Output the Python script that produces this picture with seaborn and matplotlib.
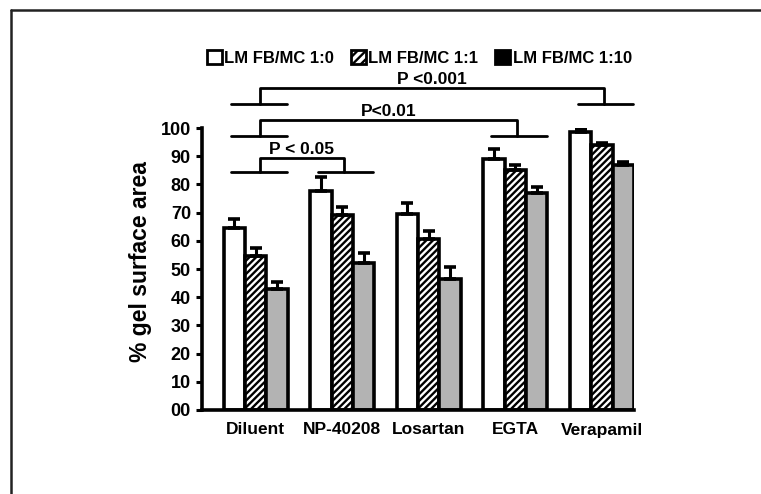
import pandas as pd
import numpy as np
import matplotlib
matplotlib.use('Agg')
import matplotlib.pyplot as plt
from matplotlib.patches import Patch
from matplotlib.lines import Line2D
from matplotlib.ticker import FuncFormatter
import seaborn as sns

# Data
treatments = ['Diluent', 'NP-40208', 'Losartan', 'EGTA', 'Verapamil']
ratios = ['LM FB/MC 1:0', 'LM FB/MC 1:1', 'LM FB/MC 1:10']
ratio_1_0 = [64.5, 77.5, 69.5, 89.0, 98.5]
ratio_1_1 = [54.5, 69.0, 60.5, 85.0, 93.8]
ratio_1_10 = [43.0, 52.0, 46.5, 77.0, 87.0]
err_1_0 = [3.4, 5.0, 3.8, 3.6, 1.0]
err_1_1 = [3.0, 2.9, 3.0, 1.9, 0.9]
err_1_10 = [2.3, 3.7, 4.2, 2.2, 1.1]

# significance brackets: (left group, right group, low y, high y, text y, label)
brackets = [
    (0, 1, 84.5, 89.5, 92.5, 'P < 0.05'),
    (0, 3, 97.2, 103.0, 105.8, 'P<0.01'),
    (0, 4, 108.5, 114.1, 117.3, 'P <0.001'),
]

values = [ratio_1_0, ratio_1_1, ratio_1_10]
errors = [err_1_0, err_1_1, err_1_10]
data = pd.DataFrame({
    'treatment': np.tile(treatments, 3),
    'ratio': np.repeat(ratios, len(treatments)),
    'value': np.concatenate(values),
})

sns.set_style('ticks', {'axes.edgecolor': 'black', 'text.color': 'black',
                        'axes.labelcolor': 'black', 'xtick.color': 'black',
                        'ytick.color': 'black'})
plt.rcParams['font.family'] = ['Liberation Sans', 'DejaVu Sans']
plt.rcParams['font.weight'] = 'bold'
plt.rcParams['hatch.linewidth'] = 1.7

fig = plt.figure(figsize=(7.61, 4.94), dpi=100)
ax = fig.add_axes([202 / 761, 1 - 410 / 494, (634 - 202) / 761, (410 - 128) / 494])

sns.barplot(data=data, x='treatment', y='value', hue='ratio',
            palette=['white', 'white', '#b3b3b3'], edgecolor='black',
            linewidth=2.6, width=0.74, gap=0, errorbar=None, legend=False,
            saturation=1, ax=ax)

for bar in ax.containers[1]:
    bar.set_hatch('/////')

# error bars (upper only)
for cont, err in zip(ax.containers, errors):
    xs = [b.get_x() + b.get_width() / 2 for b in cont]
    ys = [b.get_height() for b in cont]
    ax.errorbar(xs, ys, yerr=[np.zeros(len(err)), err], fmt='none',
                ecolor='black', elinewidth=2.2, capsize=4, capthick=2.6, zorder=1)

ax.set_ylim(0, 100)
ax.set_xlim(-0.62, 4.37)
ax.set_yticks(range(0, 101, 10))
ax.yaxis.set_major_formatter(FuncFormatter(lambda v, p: '%02d' % v))
ax.set_xlabel('')
ax.set_ylabel('% gel surface area', fontsize=16.5, fontweight='bold')
ax.yaxis.set_label_coords(-0.116, 0.528)
ax.tick_params(axis='y', labelsize=13, width=2.2, length=4, pad=4)
ax.tick_params(axis='x', labelsize=12.5, length=0, pad=9)
for lab in ax.get_xticklabels() + ax.get_yticklabels():
    lab.set_fontweight('bold')
sns.despine(ax=ax)
for s in ['left', 'bottom']:
    ax.spines[s].set_linewidth(2.6)

# brackets
for g1, g2, ylo, yhi, ytxt, label in brackets:
    for g in (g1, g2):
        ax.plot([g - 0.28, g + 0.36], [ylo, ylo], color='black', lw=2, clip_on=False)
    m1, m2 = g1 + 0.05, g2 + 0.02
    ax.plot([m1, m1, m2, m2], [ylo, yhi, yhi, ylo], color='black', lw=2, clip_on=False)
    ax.text((m1 + m2) / 2, ytxt, label, ha='center', va='center',
            fontsize=12.5, fontweight='bold', clip_on=False)

handles = [Patch(facecolor='white', edgecolor='black', linewidth=2),
           Patch(facecolor='white', edgecolor='black', hatch='////', linewidth=2),
           Patch(facecolor='black', edgecolor='black', linewidth=2)]
fig.legend(handles, ratios, loc='center', bbox_to_anchor=(0.551, 0.883), ncol=3,
           frameon=False, handlelength=0.9, handleheight=0.9, handletextpad=0.15,
           columnspacing=1.0, prop={'size': 12, 'weight': 'bold'})

# partial outer frame (top and left)
fig.add_artist(Line2D([11 / 761, 1], [1 - 10 / 494, 1 - 10 / 494], color='#222222', lw=1.8))
fig.add_artist(Line2D([11 / 761, 11 / 761], [0, 1 - 10 / 494], color='#222222', lw=1.8))

fig.savefig('out.png', dpi=100)
